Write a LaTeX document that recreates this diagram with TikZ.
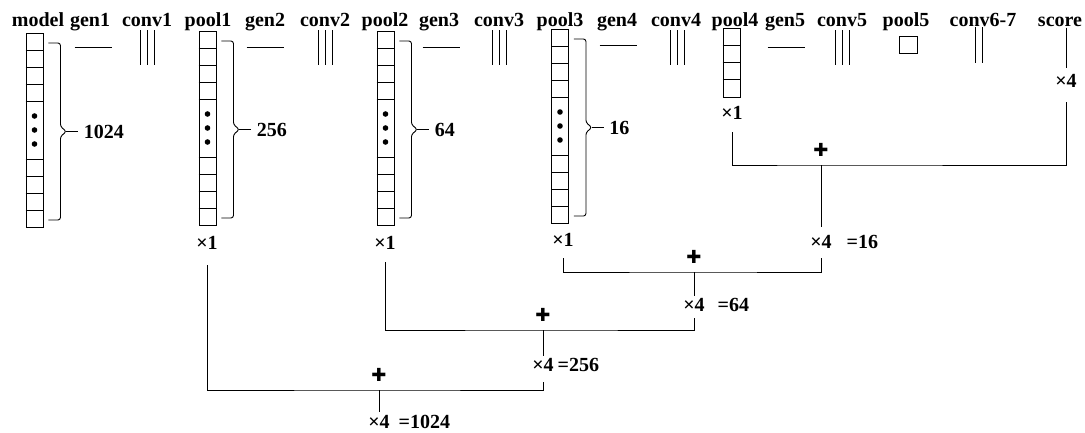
\documentclass[tikz,border=0pt]{standalone}
\usepackage{fontspec}
\setmainfont{Liberation Serif}
\newfontfamily\symfont{DejaVu Sans}
\usetikzlibrary{positioning}

\begin{document}
\begin{tikzpicture}[x=1pt,y=-1pt,line width=0.9pt,
    font=\fontsize{20}{24}\selectfont\bfseries,
    layer/.style={anchor=base,inner sep=1pt},
    column/.style={draw,minimum width=17pt,minimum height=194pt,inner sep=0pt},
    mult/.style={inner sep=0pt},
    plus/.style={inner sep=0pt,font=\symfont\fontsize{18}{18}\selectfont}]
  \useasboundingbox (0,0) rectangle (1085,432);
  % layer names
  \foreach \n/\x in {model/38,gen1/90,conv1/147,pool1/208,gen2/265,conv2/325,
                     pool2/385,gen3/439,conv3/499,pool3/560,gen4/617,conv4/676,
                     pool4/735,gen5/785,conv5/842,pool5/906,conv6-7/983,score/1060}
    \node[layer] (l-\n) at (\x,26) {\n};
  % feature columns with braces
  \foreach \c/\x/\t/\s in {model/34.5/33/1024,pool1/207.5/31/256,
                           pool2/385.5/31/64,pool3/560/29/16}{
    \node[column,anchor=north] (c-\c) at (\x,\t) {};
    \foreach \d in {17,34,51,68,126,143,160,177}
      \draw (c-\c.north west) ++(0,\d) -- ++(17,0);
    \foreach \d in {83,97,111}
      \fill (c-\c.north) ++(0,\d) circle (2.8pt);
    \draw[rounded corners=2.5pt] (c-\c.north east) ++(5,10) -- ++(12,0)
      -- ++(0,83.5) -- ++(6,5) -- ++(-6,5) -- ++(0,83.5) -- ++(-12,0);
    \draw (c-\c.north east) ++(23,98.5) -- ++(12,0)
      node[right,inner sep=5pt] (s-\c) {\s};
  }
  % pool4 column
  \node[draw,minimum width=17pt,minimum height=69pt,inner sep=0pt,anchor=north]
    (c-pool4) at (731.5,28) {};
  \foreach \d in {17.25,34.5,51.75}
    \draw (c-pool4.north west) ++(0,\d) -- ++(17,0);
  % gen layers
  \foreach \x/\y in {93/47,265/47,441/47,618/45,786/47}
    \draw (\x-18.5,\y) -- (\x+18.5,\y);
  % conv layers
  \foreach \x in {147,325,499,677,842}
    \foreach \dx in {-7,0,7}
      \draw (\x+\dx,30) -- (\x+\dx,65);
  \draw (975,27) -- (975,63) (982,27) -- (982,63);
  % pool5
  \draw (899,36) rectangle (917,53);

  % multipliers
  \node[mult] (x-pool4) at (732,113) {×1};
  \node[mult] (x-score) at (1066,81) {×4};
  \node[mult] (x-pool1) at (207,243) {×1};
  \node[mult] (x-pool2) at (385,243) {×1};
  \node[mult] (x-pool3) at (563,240) {×1};
  \node[mult] (r16) at (821,242) {×4};
  \node[mult] (r64) at (694,305) {×4};
  \node[mult] (r256) at (543,365) {×4};
  \node[mult] (r1024) at (379,422) {×4};
  \node[mult,right=14pt of r16] (e16) {=16};
  \node[mult,right=12pt of r64] (e64) {=64};
  \node[mult,right=3pt of r256] (e256) {=256};
  \node[mult,right=8pt of r1024] (e1024) {=1024};

  % upsample and add
  \coordinate (j16) at (821,165);
  \coordinate (j64) at (694,272);
  \coordinate (j256) at (543,330);
  \coordinate (j1024) at (379,390);
  \foreach \j in {16,64,256,1024}
    \node[plus,above=8pt of j\j] (p\j) {✚};
  \draw[shorten >=6pt] (l-score.south -| x-score) -- (x-score.north);
  \draw[shorten <=12pt,shorten >=14pt] (x-pool4.south) |- (j16) -| (x-score.south);
  \draw[shorten >=8pt] (j16) -- (j16 |- r16.north);
  \draw[shorten <=11pt,shorten >=9pt] (x-pool3.south) |- (j64) -| (r16.south);
  \draw[shorten >=2pt] (j64) -- (j64 |- r64.north);
  \draw[shorten <=12pt,shorten >=6pt] (x-pool2.south) |- (j256) -| (r64.south);
  \draw[shorten >=2pt] (j256) -- (j256 |- r256.north);
  \draw[shorten <=15pt,shorten >=10pt] (x-pool1.south) |- (j1024) -| (r256.south);
  \draw[shorten >=3pt] (j1024) -- (j1024 |- r1024.north);
\end{tikzpicture}
\end{document}
